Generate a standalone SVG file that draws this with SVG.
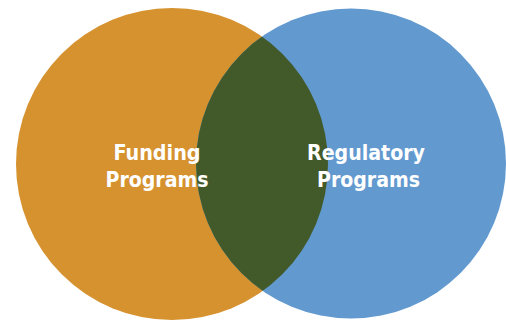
<svg xmlns="http://www.w3.org/2000/svg" width="506" height="321" viewBox="0 0 506 321">
<defs>
<style>
.lbl{font-family:"Liberation Sans Narrow","DejaVu Sans Condensed","Liberation Sans",sans-serif;font-weight:bold;font-size:22px;fill:#ffffff;text-anchor:middle}
</style>
<clipPath id="clipL"><circle cx="172" cy="164" r="156"/></clipPath>
</defs>
<rect width="506" height="321" fill="#ffffff"/>
<g id="funding">
<circle cx="172" cy="164" r="156" fill="#D5922F"/>
</g>
<g id="regulatory">
<circle cx="351" cy="163.5" r="155" fill="#6299CF"/>
</g>
<g id="overlap">
<circle cx="351" cy="163.5" r="155" fill="#425A2A" clip-path="url(#clipL)"/>
</g>
<g id="labels">
<text class="lbl" x="157" y="160" textLength="87" lengthAdjust="spacingAndGlyphs">Funding</text>
<text class="lbl" x="157" y="186.5" textLength="103" lengthAdjust="spacingAndGlyphs">Programs</text>
<text class="lbl" x="366" y="160" textLength="118" lengthAdjust="spacingAndGlyphs">Regulatory</text>
<text class="lbl" x="368.5" y="186.5" textLength="103" lengthAdjust="spacingAndGlyphs">Programs</text>
</g>
<g id="connectors"/>
</svg>
